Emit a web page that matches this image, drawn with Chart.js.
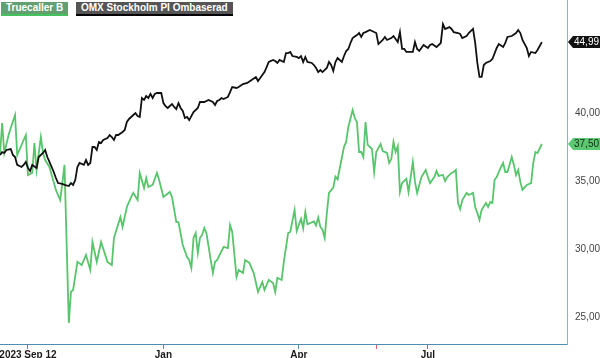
<!DOCTYPE html>
<html><head><meta charset="utf-8">
<script src="https://cdn.jsdelivr.net/npm/chart.js@4"></script>
<style>
html,body{margin:0;padding:0;background:#fff;}
#wrap{position:relative;width:600px;height:358px;overflow:hidden;}
canvas{display:block;}
.leg{position:absolute;top:2px;height:12px;font:bold 10px "Liberation Sans",Arial,sans-serif;color:#fff;line-height:12px;padding:0 5px;white-space:nowrap;}
</style></head><body>
<div id="wrap"><canvas id="c" width="600" height="358"></canvas>
<div class="leg" style="left:1px;background:#62a071;border-bottom:2px solid #45c15e">Truecaller B</div>
<div class="leg" style="left:76px;background:#555;border-bottom:2px solid #000">OMX Stockholm PI Ombaserad</div>
</div>
<script>
// trading-day index since 2023-09-12
const truecallerDays=[0,1,2,4,5,7,8,12,13,15,16,17,19,20,21,23,26,28,29,30,32,33,34,36,38,40,42,43,45,47,50,52,53,56,57,59,61,62,64,65,67,68,69,71,73,74,76,79,80,82,83,85,87,88,89,90,91,92,93,94,95,96,98,99,100,101,104,106,107,108,110,111,113,114,116,118,120,122,123,125,127,128,129,131,132,134,135,137,138,140,141,142,143,146,147,148,149,150,151,152,153,155,156,157,158,160,161,162,164,165,166,167,168,169,170,171,173,174,175,177,178,180,181,182,183,184,185,186,187,189,190,192,193,194,196,198,199,200,202,203,204,206,207,208,210,211,212,213,214,215,217,218,220,221,222,223,224,226,227,228,229,230,231,233,234,235,236,238,239,240,241,242,243,245,247,248,249,250,252];
const truecallerValues=[36.69,39.04,36.84,38.16,38.68,39.63,36.69,38.16,35.22,35.37,37.57,35.59,38.01,36.84,36.32,35.81,34.12,33.38,34.63,35.96,24.34,26.62,26.76,28.83,28.60,29.34,28.24,30.29,28.83,30.29,28.83,28.60,30.59,32.13,31.40,32.87,33.60,33.90,33.38,35.37,34.26,35.00,34.34,34.49,35.37,34.85,33.60,33.97,33.60,31.76,31.76,30.07,29.19,28.97,28.38,30.59,30.95,29.49,30.59,30.81,31.32,30.95,28.97,28.01,28.83,28.97,29.93,29.85,31.54,31.03,27.72,28.24,28.01,28.97,28.75,28.01,26.62,27.35,26.76,27.50,27.28,26.62,27.65,27.50,28.83,30.95,31.03,32.65,31.10,32.00,31.30,32.50,31.60,31.80,31.50,32.10,31.40,31.20,30.60,32.40,33.90,34.30,35.10,34.90,35.70,37.30,37.65,38.75,40.00,39.41,39.12,36.91,36.91,36.54,39.12,37.43,37.13,35.44,36.91,37.50,36.98,36.84,36.10,36.39,37.65,36.91,37.35,33.97,34.63,34.93,33.97,36.18,34.71,33.90,35.07,35.59,35.07,34.63,35.07,35.51,35.15,35.22,34.78,35.07,35.37,35.44,35.59,33.16,32.72,33.38,33.90,33.75,33.90,32.87,32.43,31.91,32.65,33.16,32.87,33.24,33.16,34.85,35.07,35.81,36.10,35.44,35.44,36.54,35.96,35.22,35.59,34.71,34.12,34.49,34.63,36.10,36.91,36.84,37.50];
const omxDays=[0,1,2,3,5,6,7,8,10,11,12,13,14,15,17,18,20,21,22,23,25,26,27,29,30,32,33,34,35,36,37,39,40,41,42,43,44,45,46,47,48,50,51,52,53,54,55,57,58,59,60,62,63,64,65,66,67,68,69,70,71,72,73,75,76,77,78,80,81,82,83,84,85,86,87,88,90,92,93,95,97,99,100,101,102,103,104,106,107,108,110,111,113,115,117,119,120,122,123,124,125,127,128,129,130,132,133,134,135,136,138,139,140,141,142,143,145,146,147,148,149,150,152,153,154,155,156,157,159,160,161,162,163,164,166,167,168,169,170,172,173,175,176,178,179,180,182,183,185,186,187,188,189,192,193,194,195,197,199,200,201,203,205,206,207,209,210,211,213,214,215,217,218,220,221,222,223,224,225,226,228,229,231,232,234,235,236,238,240,241,242,243,245,246,247,249,250,252];
const omxValues=[36.69,36.91,36.84,37.06,37.13,36.69,36.54,35.96,35.81,35.96,36.18,35.74,35.51,35.96,35.74,36.54,36.84,37.06,36.54,36.18,35.44,35.00,34.63,34.56,34.49,34.41,34.63,34.49,34.85,35.81,36.10,35.96,36.32,35.96,36.10,37.28,37.28,37.06,37.65,37.57,37.79,37.94,38.16,38.01,37.79,38.16,38.16,38.38,38.53,39.12,39.34,39.63,39.78,39.56,39.49,40.88,40.74,41.03,40.88,41.18,40.88,41.18,41.25,41.25,40.51,40.29,40.15,40.44,40.22,40.07,40.51,40.15,39.93,39.41,39.49,39.26,39.85,40.15,40.59,40.59,40.74,40.59,40.37,40.66,40.74,40.88,40.81,40.96,41.32,41.69,41.62,41.69,41.91,41.99,42.21,42.43,42.13,42.57,42.79,43.16,43.53,43.68,43.60,43.46,43.68,43.53,44.19,44.19,44.27,43.97,43.90,43.82,43.97,43.53,43.90,43.53,43.46,43.31,43.09,42.79,42.94,42.79,43.09,43.53,43.31,42.87,43.53,43.82,43.53,43.97,44.34,44.49,44.93,45.29,45.51,45.66,45.37,45.66,45.73,45.88,45.81,45.66,44.85,45.15,45.37,45.15,45.29,45.44,45.00,45.73,44.49,44.49,44.27,44.27,45.00,44.49,44.34,44.78,44.56,44.78,44.85,44.63,44.93,46.32,45.96,46.10,45.96,45.73,45.66,45.59,45.29,45.44,45.66,45.96,44.93,43.46,42.43,42.43,43.31,43.46,43.60,43.75,44.56,44.85,44.63,44.93,45.37,45.44,45.66,45.88,45.66,45.15,44.56,43.97,44.27,44.19,44.41,44.99];
const yTickValues=[25,30,35,40];
const xTickDays=[13,76,139,175,199];
const xTickLabels=['2023 Sep 12','Jan','Apr','','Jul'];
const eventDay=175;

const toPts=(d,v)=>d.map((x,i)=>({x:x,y:v[i]}));
const fmt=v=>v.toFixed(2).replace('.',',');
const AX='#4f8db0';

const tagPlugin={id:'tags',afterDatasetsDraw(chart){
  const ctx=chart.ctx, ys=chart.scales.y, right=chart.chartArea.right;
  const tags=[{v:omxValues[omxValues.length-1],bg:'#111',fg:'#fff'},{v:truecallerValues[truecallerValues.length-1],bg:'#5cc871',fg:'#1b2a1b'}];
  ctx.save();
  tags.forEach(t=>{
    const y=Math.round(ys.getPixelForValue(t.v));
    ctx.beginPath();
    ctx.moveTo(right+1,y);ctx.lineTo(right+6,y-6);ctx.lineTo(600,y-6);ctx.lineTo(600,y+6);ctx.lineTo(right+6,y+6);ctx.closePath();
    ctx.fillStyle=t.bg;ctx.fill();
    ctx.fillStyle=t.fg;ctx.font='10px "Liberation Sans", Arial, sans-serif';ctx.textBaseline='middle';ctx.textAlign='left';
    ctx.fillText(fmt(t.v),right+7,y+0.5);
  });
  ctx.restore();
}};

new Chart(document.getElementById('c'),{
  type:'line',
  data:{datasets:[
    {label:'OMX Stockholm PI Ombaserad',data:toPts(omxDays,omxValues),borderColor:'#111',borderWidth:1.8,pointRadius:0,tension:0},
    {label:'Truecaller B',data:toPts(truecallerDays,truecallerValues),borderColor:'#58c46b',borderWidth:1.8,pointRadius:0,tension:0}
  ]},
  options:{
    responsive:false,animation:false,devicePixelRatio:1,
    layout:{padding:0},
    plugins:{legend:{display:false},tooltip:{enabled:false}},
    scales:{
      x:{type:'linear',position:'bottom',min:0,max:263.7,
        afterBuildTicks:s=>{s.ticks=xTickDays.map(v=>({value:v}));},
        afterFit:s=>{s.height=14;s.paddingLeft=0;s.paddingRight=0;},
        ticks:{autoSkip:false,maxRotation:0,padding:0,color:'#1a1a1a',font:{family:'"Liberation Sans", Arial, sans-serif',size:10,weight:'bold'},
          callback:(v)=>{const i=xTickDays.indexOf(v);return i>=0?xTickLabels[i]:'';}},
        grid:{drawOnChartArea:false,drawTicks:true,tickLength:5,tickWidth:1,tickColor:c=>c.tick&&c.tick.value===eventDay?'#e4606e':AX},
        border:{display:true,color:AX,width:1}
      },
      y:{type:'linear',position:'right',min:22.79,max:48.09,
        afterBuildTicks:s=>{s.ticks=yTickValues.map(v=>({value:v}));},
        afterFit:s=>{s.width=33;s.paddingTop=0;s.paddingBottom=0;},
        ticks:{padding:8,labelOffset:3,color:'#444',font:{family:'"Liberation Sans", Arial, sans-serif',size:10},callback:v=>fmt(v)},
        grid:{drawOnChartArea:false,drawTicks:false},
        border:{display:true,color:'#8db4ca',width:1}
      }
    }
  },
  plugins:[tagPlugin]
});
</script>
</body></html>
